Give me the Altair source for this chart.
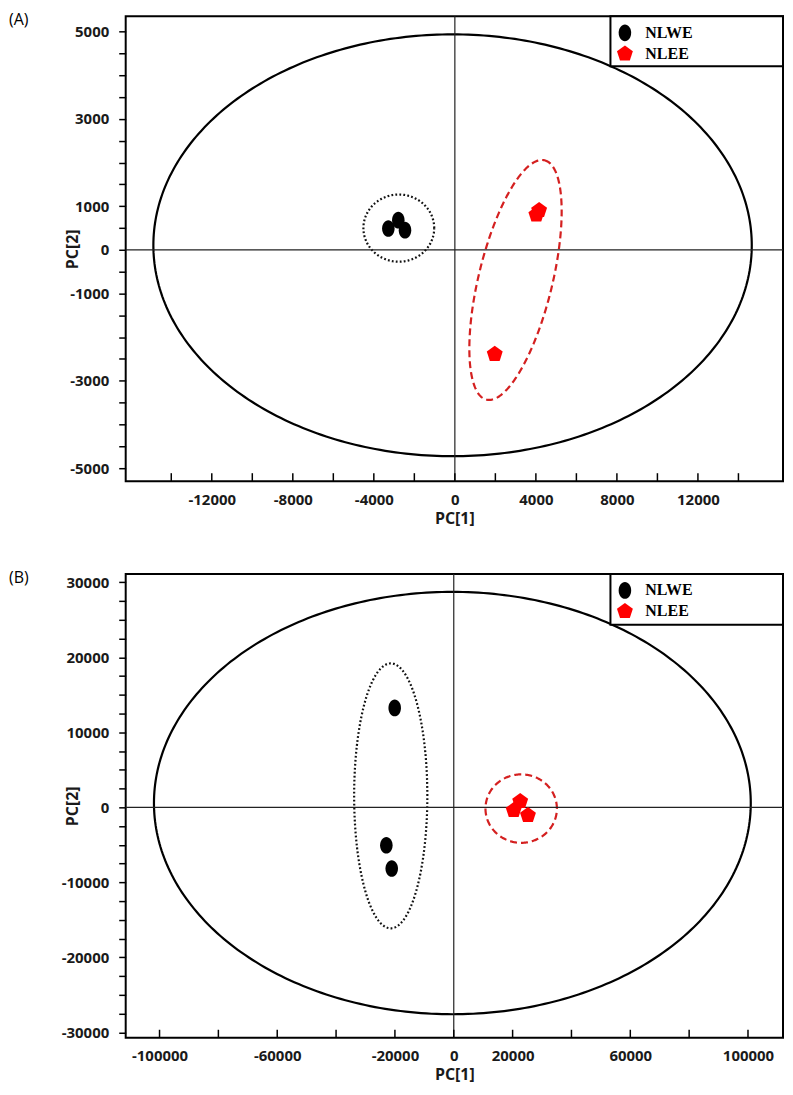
import numpy as np
import pandas as pd
import altair as alt

groups = ["NLWE", "NLEE"]
group_colors = ["#000000", "#ff0000"]

# ---- Panel A scores ----
a_nlwe_x = [-3284, -2792, -2462]
a_nlwe_y = [489, 681, 452]
a_nlee_x = [4023, 4160, 1969]
a_nlee_y = [802, 905, -2390]

# ---- Panel B scores ----
b_nlwe_x = [-20070, -22915, -21085]
b_nlwe_y = [13250, -5050, -8147]
b_nlee_x = [22580, 20370, 25220]
b_nlee_y = [800, -400, -1060]

# ellipses: centre x, centre y, axis-1 (dx, dy), axis-2 (dx, dy)
a_t2 = [-113, 105, 14771, 0, 0, 4833]
a_nlwe_ell = [-2767, 498, 1748, 0, 0, 770]
a_nlee_ell = [2994, -690, 1435, 2742, 1770, -200]
b_t2 = [-475, 570, 101420, 0, 0, 28140]
b_nlwe_ell = [-21420, 1530, 12440, 0, 0, 17650]
b_nlee_ell = [22915, -170, 12135, 0, 0, 4560]

a_x_domain = [-16250, 16200]
a_y_domain = [-5300, 5350]
b_x_domain = [-111500, 111900]
b_y_domain = [-30700, 31100]

a_x_ticks = [-14000, -12000, -10000, -8000, -6000, -4000, -2000, 0,
             2000, 4000, 6000, 8000, 10000, 12000, 14000]
a_x_labels = [-12000, -8000, -4000, 0, 4000, 8000, 12000]
a_y_ticks = [-5000, -4500, -4000, -3500, -3000, -2500, -2000, -1500, -1000, -500, 0,
             500, 1000, 1500, 2000, 2500, 3000, 3500, 4000, 4500, 5000]
a_y_labels = [-5000, -3000, -1000, 0, 1000, 3000, 5000]

b_x_ticks = [-100000, -80000, -60000, -40000, -20000, 0,
             20000, 40000, 60000, 80000, 100000]
b_x_labels = [-100000, -60000, -20000, 0, 20000, 60000, 100000]
b_y_ticks = [-30000, -27500, -25000, -22500, -20000, -17500, -15000, -12500, -10000,
             -7500, -5000, -2500, 0, 2500, 5000, 7500, 10000, 12500, 15000, 17500,
             20000, 22500, 25000, 27500, 30000]
b_y_labels = [-30000, -20000, -10000, 0, 10000, 20000, 30000]

ELLIPSE_SHAPE = "M -0.75 0 A 0.75 1 0 1 0 0.75 0 A 0.75 1 0 1 0 -0.75 0 Z"
PENTAGON_SHAPE = ("M 0 -1 L 0.951 -0.309 L 0.588 0.809 L -0.588 0.809 "
                  "L -0.951 -0.309 Z")

TICK_FONT = "Open Sans"


def ellipse_df(p, n=361):
    t = np.linspace(0, 2 * np.pi, n)
    cx, cy, ux, uy, vx, vy = p
    return pd.DataFrame({
        "x": cx + ux * np.cos(t) + vx * np.sin(t),
        "y": cy + uy * np.cos(t) + vy * np.sin(t),
        "i": np.arange(n),
    })


def panel(tag, wx, wy, ex, ey, t2, ell_w, ell_e, xdom, ydom,
          xticks, xlabels, yticks, ylabels, W, H, box_h):
    xs = alt.Scale(domain=xdom, nice=False, zero=False)
    ys = alt.Scale(domain=ydom, nice=False, zero=False)
    y_lab_expr = ("indexof([%s], datum.value) >= 0 ? '' + datum.value : ''"
                  % ",".join(str(v) for v in ylabels))

    x_axis = alt.Axis(values=xlabels, title="PC[1]", ticks=False, tickSize=0,
                      domain=False, grid=False, labelPadding=11,
                      labelExpr="'' + datum.value",
                      labelFlush=False, labelOverlap=False,
                      labelFont=TICK_FONT, labelFontSize=15, labelFontWeight="bold",
                      labelColor="#1a1a1a", titleFont=TICK_FONT, titleFontSize=16,
                      titleFontWeight="bold", titleColor="#1a1a1a", titlePadding=3)
    y_axis = alt.Axis(values=yticks, labelExpr=y_lab_expr, title="PC[2]",
                      ticks=True, tickSize=7, tickWidth=1.5, tickColor="black",
                      domain=False, grid=False, labelPadding=10,
                      labelFlush=False, labelOverlap=False,
                      labelFont=TICK_FONT, labelFontSize=15, labelFontWeight="bold",
                      labelColor="#1a1a1a", titleFont=TICK_FONT, titleFontSize=16,
                      titleFontWeight="bold", titleColor="#1a1a1a",
                      titleX=-45, titleY=H / 2)

    pts = pd.DataFrame({
        "x": wx + ex,
        "y": wy + ey,
        "group": [groups[0]] * len(wx) + [groups[1]] * len(ex),
    })
    leg = alt.Legend(title=None, orient="none", legendX=492, legendY=8,
                     labelFont="Liberation Serif", labelFontSize=16,
                     labelFontWeight="bold", labelColor="black",
                     symbolSize=280, symbolStrokeWidth=0, symbolOpacity=1,
                     labelOffset=12, rowPadding=4, padding=0)

    X = lambda f: alt.X(f, scale=xs, axis=x_axis)
    Y = lambda f: alt.Y(f, scale=ys, axis=y_axis)

    points = alt.Chart(pts).mark_point(filled=True, opacity=1, size=280,
                                       strokeWidth=0).encode(
        x=X("x:Q"),
        y=Y("y:Q"),
        color=alt.Color("group:N", scale=alt.Scale(domain=groups, range=group_colors),
                        legend=leg),
        shape=alt.Shape("group:N", scale=alt.Scale(domain=groups,
                                                   range=[ELLIPSE_SHAPE, PENTAGON_SHAPE]),
                        legend=leg),
    )

    def ell_layer(p, **kw):
        return alt.Chart(ellipse_df(p)).mark_line(**kw).encode(
            x=X("x:Q"), y=Y("y:Q"), order="i:Q")

    big = ell_layer(t2, color="black", strokeWidth=2.2)
    dotted = ell_layer(ell_w, color="#111111", strokeWidth=2.2, strokeDash=[1.8, 2.2])
    dashed = ell_layer(ell_e, color="#d42020", strokeWidth=2.2, strokeDash=[7, 4])

    zero = pd.DataFrame({"x": [0], "y": [0]})
    vline = alt.Chart(zero).mark_rule(color="#222222", strokeWidth=1.2).encode(
        x=X("x:Q"))
    hline = alt.Chart(zero).mark_rule(color="#222222", strokeWidth=1.2).encode(
        y=Y("y:Q"))

    ticks = alt.Chart(pd.DataFrame({"x": xticks})).mark_rule(
        color="black", strokeWidth=1.5).encode(
        x=X("x:Q"), y=alt.value(H - 8), y2=alt.value(H))

    box = alt.Chart(zero).mark_rect(fill="white", stroke="black",
                                    strokeWidth=2).encode(
        x=alt.value(486), x2=alt.value(W), y=alt.value(0), y2=alt.value(box_h))

    label = alt.Chart(zero).mark_text(text=tag, align="left", baseline="top",
                                      fontSize=16, font="Open Sans",
                                      color="black").encode(
        x=alt.value(-117), y=alt.value(-4))

    return alt.layer(big, dotted, dashed, vline, hline, ticks, box, points,
                     label).properties(width=W, height=H)


pA = panel("(A)", a_nlwe_x, a_nlwe_y, a_nlee_x, a_nlee_y, a_t2, a_nlwe_ell, a_nlee_ell,
           a_x_domain, a_y_domain, a_x_ticks, a_x_labels, a_y_ticks, a_y_labels,
           659, 466, 50)
pB = panel("(B)", b_nlwe_x, b_nlwe_y, b_nlee_x, b_nlee_y, b_t2, b_nlwe_ell, b_nlee_ell,
           b_x_domain, b_y_domain, b_x_ticks, b_x_labels, b_y_ticks, b_y_labels,
           659, 465, 51)

chart = alt.vconcat(pA, pB, spacing=42).resolve_scale(
    color="independent", shape="independent"
).properties(
    padding={"left": 0, "top": 2, "right": 0, "bottom": 0},
    background="white",
).configure_view(stroke="black", strokeWidth=2)

chart.save("out.html", embed_options={"renderer": "svg", "actions": False})
